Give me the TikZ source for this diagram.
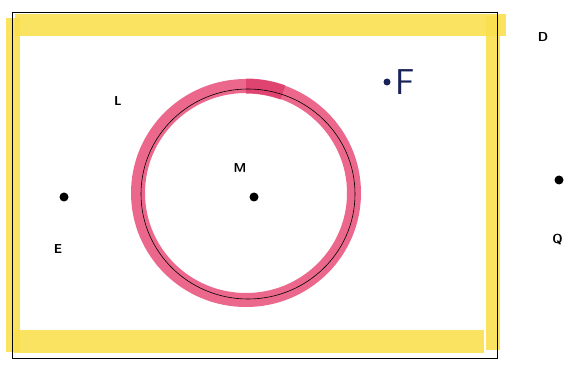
\documentclass[tikz,border=0pt]{standalone}
\usepackage{tikz}
\usetikzlibrary{positioning,calc}

\definecolor{hiyellow}{RGB}{250,224,80}
\definecolor{ringpink}{RGB}{233,88,128}
\definecolor{patchpink}{RGB}{222,62,108}
\definecolor{inkblue}{RGB}{25,35,90}

\begin{document}
\begin{tikzpicture}[
			x=1pt, y=-1pt,
			dot/.style={circle, fill=black, minimum size=9pt, inner sep=0pt},
			lab/.style={font=\sffamily\bfseries\fontsize{13}{13}\selectfont, inner sep=1pt},
			band/.style={fill=hiyellow, opacity=0.9},
			ring/.style={draw=ringpink, line width=14pt, opacity=0.9}
			]
			\useasboundingbox (0,0) rectangle (564,371);
			
			% --------------------------------------------------------------------
			% yellow highlighter round the frame
			% --------------------------------------------------------------------
			\fill[band] (15,14) rectangle (506,36);
			\fill[band] (14,330) rectangle (484,353);
			\fill[band] (6,18) rectangle (20,352);
			\fill[band] (486,16) rectangle (500,350);
			
			% frame
			\draw[black, line width=1pt] (12,13) rectangle (497,358);
			
			% --------------------------------------------------------------------
			% pink ring
			% --------------------------------------------------------------------
			\draw[ring] (246,193) ellipse (108 and 107);
			\draw[patchpink, line width=15pt, opacity=0.85] ($(246,193)+(-90:108 and 107)$) arc[start angle=-90, end angle=-70, x radius=108, y radius=107];
			\draw[black, line width=0.6pt] (248,194) ellipse (107 and 105);
			
			% points
			\node[dot] (m) at (254,197) {};
			\node[dot] (e) at (64,197) {};
			\node[dot] (q) at (559,180) {};
			\node[dot, fill=inkblue, minimum size=7pt] (f) at (387,82) {};
			
			% labels
			\node[lab] (ml) at (240,168) {M};
			\node[lab] (ll) at (118,101) {L};
			\node[lab] (el) at (58,249) {E};
			\node[lab] (dl) at (543,37) {D};
			\node[lab, anchor=east] (ql) at (564,240) {Q};
			\node[font=\sffamily\fontsize{36}{36}\selectfont, text=inkblue, inner sep=0pt, right=5pt of f] (fl) {F};
			
		\end{tikzpicture}
\end{document}
